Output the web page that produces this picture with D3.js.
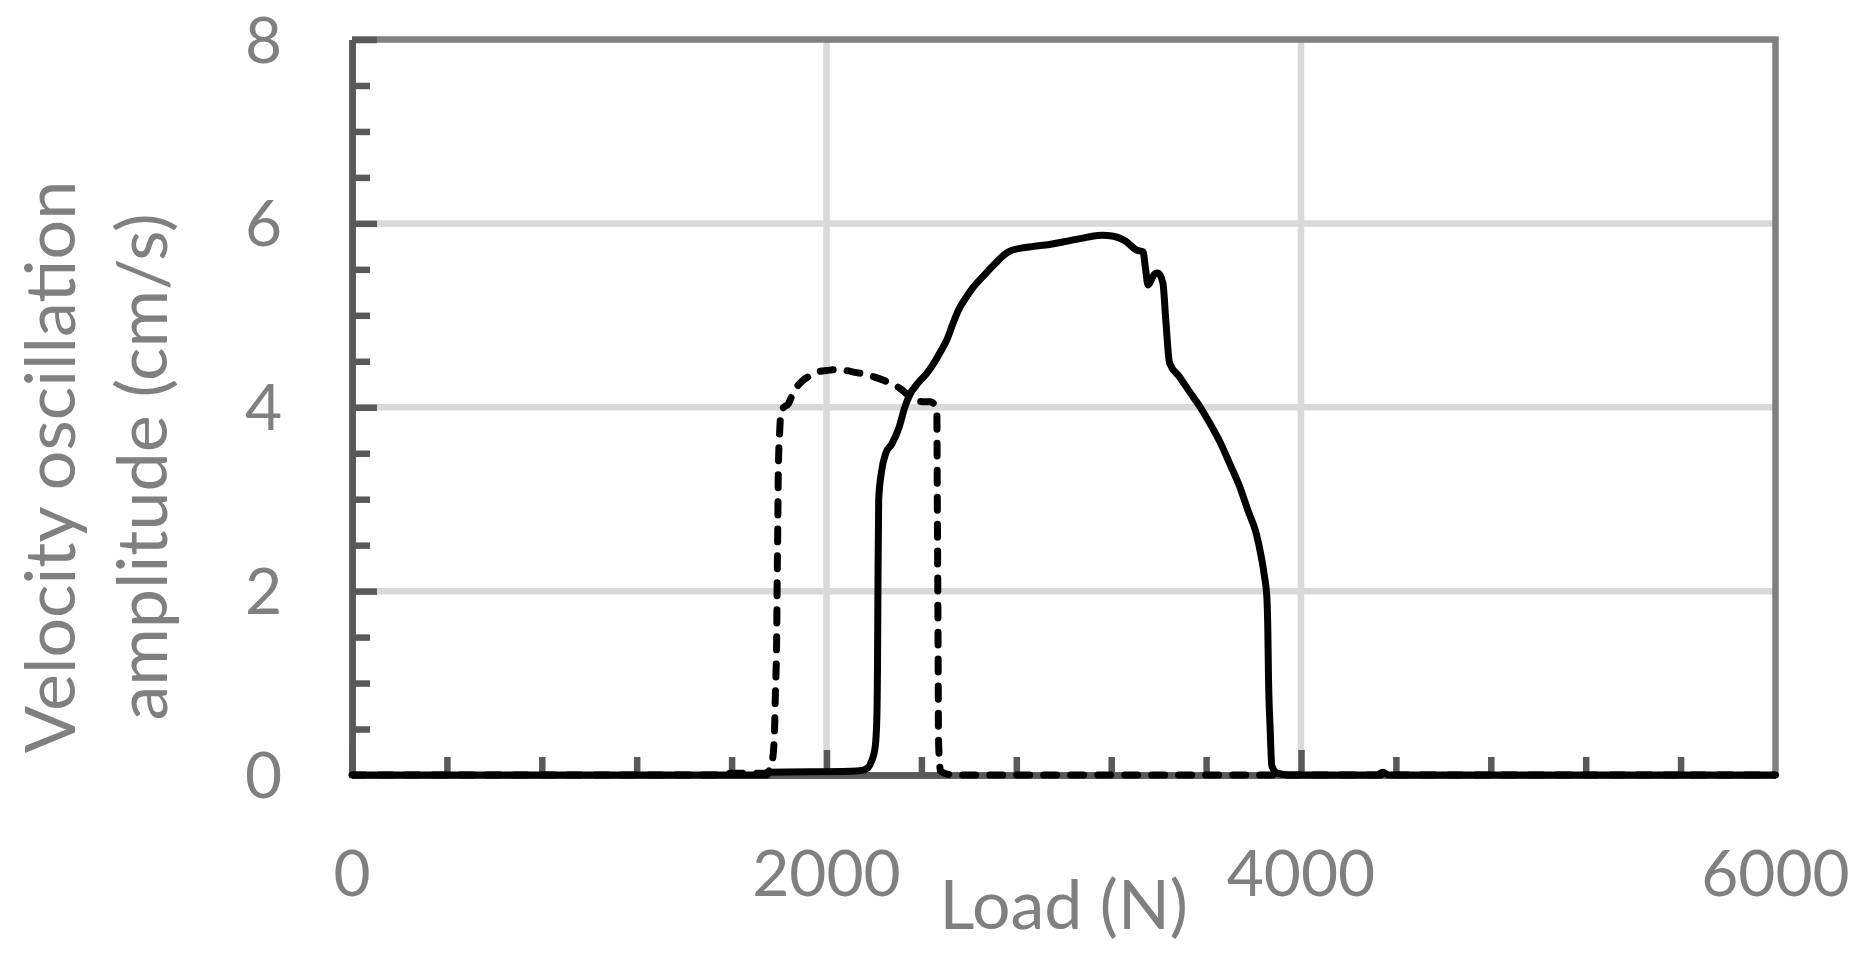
<!DOCTYPE html>
<html>
<head>
<meta charset="utf-8">
<script src="https://cdn.jsdelivr.net/npm/d3@7"></script>
<style>
  body { margin: 0; background: #fff; }
  text { font-family: Lato, "Open Sans", sans-serif; fill: #808080; }
</style>
</head>
<body>
<script>
// chart data
let loadSolid = [0, 1750, 1760, 2100, 2150, 2175, 2190, 2205, 2212, 2215, 2217, 2220, 2232, 2250, 2275, 2307, 2330, 2348, 2388, 2420, 2450, 2484, 2510, 2533, 2557, 2590, 2614, 2662, 2710, 2750, 2775, 2820, 2872, 2940, 3000, 3040, 3081, 3120, 3161, 3210, 3258, 3307, 3334, 3345, 3355, 3368, 3383, 3397, 3418, 3430, 3446, 3488, 3530, 3573, 3615, 3657, 3699, 3741, 3776, 3811, 3832, 3846, 3856, 3860, 3863, 3870, 3877, 3900, 3950, 4320, 4345, 4370, 6000];
let ampSolid  = [0, 0, 0.03, 0.04, 0.05, 0.08, 0.15, 0.3, 0.6, 1.2, 2.1, 3.0, 3.3, 3.5, 3.6, 3.79, 4.0, 4.12, 4.27, 4.36, 4.47, 4.62, 4.75, 4.91, 5.06, 5.2, 5.29, 5.43, 5.56, 5.66, 5.70, 5.73, 5.75, 5.77, 5.80, 5.82, 5.84, 5.86, 5.87, 5.86, 5.81, 5.71, 5.69, 5.50, 5.33, 5.38, 5.45, 5.46, 5.35, 4.95, 4.48, 4.33, 4.17, 4.01, 3.83, 3.63, 3.39, 3.14, 2.88, 2.63, 2.38, 2.16, 1.94, 1.6, 1.06, 0.5, 0.1, 0.02, 0, 0, 0.03, 0, 0];

let loadDashed = [0, 1540, 1560, 1740, 1760, 1768, 1780, 1784, 1790, 1792, 1795, 1797, 1803, 1808, 1820, 1840, 1855, 1872, 1900, 1937, 1970, 2001, 2040, 2082, 2120, 2163, 2200, 2243, 2275, 2307, 2340, 2372, 2410, 2436, 2455, 2465, 2467, 2469, 2471, 2472, 2476, 2481, 2510, 2533, 6000];
let ampDashed  = [0, 0, 0.02, 0.02, 0.05, 0.1, 0.4, 0.83, 1.5, 2.08, 2.8, 3.33, 3.75, 3.96, 4.0, 4.04, 4.13, 4.21, 4.29, 4.35, 4.39, 4.40, 4.41, 4.40, 4.38, 4.36, 4.33, 4.29, 4.25, 4.21, 4.14, 4.08, 4.06, 4.06, 4.03, 3.98, 3.0, 2.08, 1.0, 0.42, 0.15, 0.04, 0.01, 0, 0];

let xTicks = [0, 2000, 4000, 6000];
let xMinorTicks = d3.range(0, 6001, 400).filter(d => d % 2000 !== 0);
let yTicks = [0, 2, 4, 6, 8];
let yMinorTicks = d3.range(0, 8.01, 0.5).filter(d => d % 2 !== 0);

let xTitle = 'Load (N)';
let yTitle = ['Velocity oscillation', 'amplitude (cm/s)'];

// svg area
let svgWidth = 1860;
let svgHeight = 969;
let margin = { top: 39.5, right: 84.5, bottom: 194, left: 352 };
let chartWidth = svgWidth - margin.left - margin.right;
let chartHeight = svgHeight - margin.top - margin.bottom;

let svg = d3.select('body')
  .append('svg')
  .attr('width', svgWidth)
  .attr('height', svgHeight);

let chartGroup = svg.append('g')
  .attr('transform', `translate(${margin.left}, ${margin.top})`);

let xScale = d3.scaleLinear().domain([0, 6000]).range([0, chartWidth]);
let yScale = d3.scaleLinear().domain([0, 8]).range([chartHeight, 0]);

let lineW = 6.5;
let dataW = 7;

// gridlines
chartGroup.append('g')
  .selectAll('line')
  .data(yTicks.filter(d => d > 0 && d < 8))
  .enter()
  .append('line')
  .attr('x1', 0).attr('x2', chartWidth)
  .attr('y1', d => yScale(d)).attr('y2', d => yScale(d))
  .attr('stroke', '#d9d9d9').attr('stroke-width', lineW);

chartGroup.append('g')
  .selectAll('line')
  .data(xTicks.filter(d => d > 0 && d < 6000))
  .enter()
  .append('line')
  .attr('x1', d => xScale(d)).attr('x2', d => xScale(d))
  .attr('y1', 0).attr('y2', chartHeight)
  .attr('stroke', '#d9d9d9').attr('stroke-width', lineW);

// top and right border
chartGroup.append('path')
  .attr('d', `M0,0H${chartWidth}V${chartHeight}`)
  .attr('fill', 'none')
  .attr('stroke', '#808080')
  .attr('stroke-width', lineW);

// axes with inward ticks
function styleAxis(g) {
  g.select('.domain').attr('stroke', '#595959').attr('stroke-width', lineW);
  g.selectAll('.tick line').attr('stroke', '#595959').attr('stroke-width', lineW);
  g.selectAll('text').remove();
}

let yMinor = d3.axisRight(yScale).tickValues(yMinorTicks).tickSize(18).tickSizeOuter(0);
let yMajor = d3.axisRight(yScale).tickValues(yTicks).tickSize(25).tickSizeOuter(0);
let xMinor = d3.axisTop(xScale).tickValues(xMinorTicks).tickSize(18).tickSizeOuter(0);
let xMajor = d3.axisTop(xScale).tickValues(xTicks.filter(d => d < 6000)).tickSize(25).tickSizeOuter(0);

chartGroup.append('g').call(yMinor).call(styleAxis);
chartGroup.append('g').call(yMajor).call(styleAxis);
chartGroup.append('g').attr('transform', `translate(0, ${chartHeight})`).call(xMinor).call(styleAxis);
chartGroup.append('g').attr('transform', `translate(0, ${chartHeight})`).call(xMajor).call(styleAxis);

// tick labels
chartGroup.append('g')
  .selectAll('text')
  .data(xTicks)
  .enter()
  .append('text')
  .attr('x', d => xScale(d))
  .attr('y', chartHeight + 121)
  .attr('text-anchor', 'middle')
  .style('font-size', '64px')
  .text(d => d);

chartGroup.append('g')
  .selectAll('text')
  .data(yTicks)
  .enter()
  .append('text')
  .attr('x', -70)
  .attr('y', d => yScale(d))
  .attr('dy', '0.36em')
  .attr('text-anchor', 'end')
  .style('font-size', '64px')
  .text(d => d);

// data lines (smoothed like the source plot)
let createLine = d3.line()
  .curve(d3.curveMonotoneX)
  .x(d => xScale(d[0]))
  .y(d => yScale(d[1]));

chartGroup.append('path')
  .attr('d', createLine(d3.zip(loadDashed, ampDashed)))
  .attr('fill', 'none')
  .attr('stroke', 'black')
  .attr('stroke-width', dataW)
  .attr('stroke-linecap', 'round')
  .attr('stroke-linejoin', 'round')
  .attr('stroke-dasharray', '13 14');

chartGroup.append('path')
  .attr('d', createLine(d3.zip(loadSolid, ampSolid)))
  .attr('fill', 'none')
  .attr('stroke', 'black')
  .attr('stroke-width', dataW)
  .attr('stroke-linejoin', 'round');

// axis titles
svg.append('text')
  .attr('x', margin.left + chartWidth / 2)
  .attr('y', 929)
  .attr('text-anchor', 'middle')
  .style('font-size', '68px')
  .text(xTitle);

svg.append('g')
  .attr('transform', 'translate(0, 467) rotate(-90)')
  .selectAll('text')
  .data(yTitle)
  .enter()
  .append('text')
  .attr('x', 0)
  .attr('y', (d, i) => 75 + i * 92)
  .attr('text-anchor', 'middle')
  .style('font-size', '70px')
  .text(d => d);
</script>
</body>
</html>
